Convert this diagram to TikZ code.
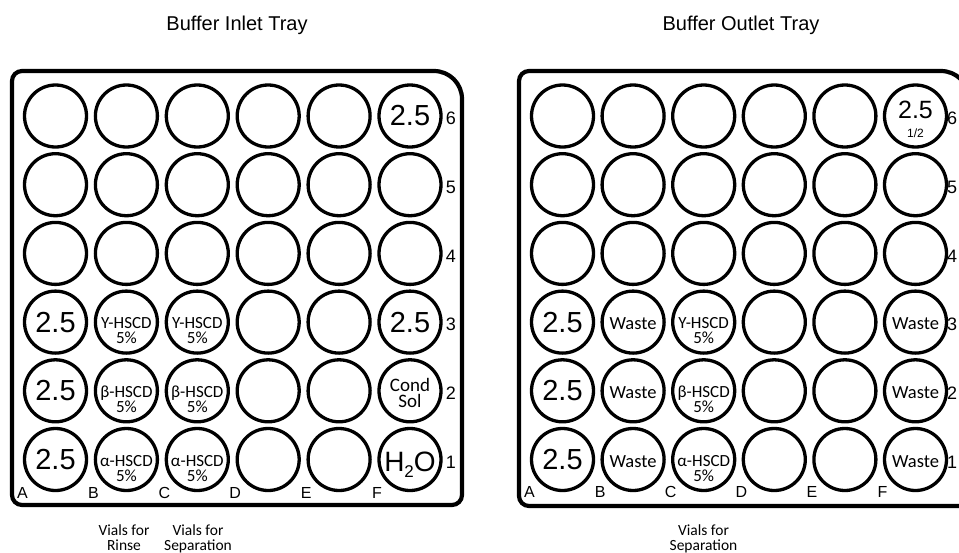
\documentclass[tikz,border=0pt]{standalone}
\usepackage{fontspec}
\setmainfont{Liberation Sans}
\newfontfamily\myr{Carlito}
\usetikzlibrary{calc}
\newcommand\hscdlab[2]{%
  \node[small,anchor=base] (#1-a) at ($(#1)+(0,21.5)$) {#2-HSCD\\5\%};}
\newcommand\wastelab[1]{%
  \node[wastefont,anchor=base] (#1-w) at ($(#1)+(0,7.5)$) {Waste};}
\newcommand\bignum[1]{%
  \node[big] (#1-n) at (#1) {2.5};}
\begin{document}
\begin{tikzpicture}[x=1pt,y=-1pt,
  vial/.style={circle,draw,line width=3.3pt,minimum size=62pt,inner sep=0pt},
  tray/.style={line width=4.2pt,line join=round},
  big/.style={font=\fontsize{29}{29}\selectfont,inner sep=0pt},
  rowlab/.style={font=\fontsize{18}{18}\selectfont,inner sep=0pt},
  collab/.style={font=\fontsize{16}{16}\selectfont,inner sep=0pt,anchor=base},
  small/.style={font=\myr\fontsize{17}{15}\selectfont,inner sep=0pt,align=center},
  wastefont/.style={font=\myr\fontsize{18.5}{15}\selectfont,inner sep=0pt},
  title/.style={font=\fontsize{20}{20}\selectfont,inner sep=0pt,anchor=base},
  note/.style={font=\myr\fontsize{15.5}{15}\selectfont,inner sep=0pt,anchor=base,align=center}]
\useasboundingbox (0,0) rectangle (959,552);
\clip (0,0) rectangle (959,552);
\fill[white] (0,0) rectangle (959,552);

% titles
\node[title] (t1) at (237,30) {Buffer Inlet Tray};
\node[title] (t2) at (741,30) {Buffer Outlet Tray};

% ---------------- left tray
\draw[tray] (12,81) .. controls (12,75.48) and (16.48,71) .. (22,71) -- (434,71)
  .. controls (449.46,71) and (462,83.54) .. (462,99) -- (462,495)
  .. controls (462,500.52) and (457.52,505) .. (452,505) -- (22,505)
  .. controls (16.48,505) and (12,500.52) .. (12,495) -- cycle;
\foreach \c [count=\i from 0] in {A,B,C,D,E,F} {
  \foreach \r in {1,...,6} {
    \node[vial] (L-\c\r) at ({55.5+70.9*\i},{459.5-68.7*(\r-1)}) {};
  }
  \node[collab] (L-lab\c) at ({55.5+70.9*\i-33},498) {\c};
}
\foreach \r in {1,...,6} {
  \node[rowlab] (L-row\r) at (451,{459.5-68.7*(\r-1)+2.5}) {\r};
}
\bignum{L-F6}
\bignum{L-A3}\bignum{L-A2}\bignum{L-A1}\bignum{L-F3}
\hscdlab{L-B3}{Y}\hscdlab{L-C3}{Y}
\hscdlab{L-B2}{β}\hscdlab{L-C2}{β}
\hscdlab{L-B1}{α}\hscdlab{L-C1}{α}
\node[font=\myr\fontsize{19}{16}\selectfont,inner sep=0pt,anchor=base,align=center] (L-F2-a) at ($(L-F2)+(0,16.5)$) {Cond\\Sol};
\node[font=\fontsize{28}{28}\selectfont,inner sep=0pt,anchor=base] (L-F1-n) at ($(L-F1)+(0,11.5)$) {H\raisebox{-0.22em}{\fontsize{17}{17}\selectfont 2}O};
\node[note] (n1) at (124,550) {Vials for\\Rinse};
\node[note] (n2) at (198,550) {Vials for\\Separation};

% ---------------- right tray
\begin{scope}[shift={(507,0)}]
\draw[tray] (12,81) .. controls (12,75.48) and (16.48,71) .. (22,71) -- (434,71)
  .. controls (449.46,71) and (462,83.54) .. (462,99) -- (462,496)
  .. controls (462,501.52) and (457.52,506) .. (452,506) -- (22,506)
  .. controls (16.48,506) and (12,501.52) .. (12,496) -- cycle;
\foreach \c [count=\i from 0] in {A,B,C,D,E,F} {
  \foreach \r in {1,...,6} {
    \node[vial] (R-\c\r) at ({55.5+70.6*\i},{459.5-68.7*(\r-1)}) {};
  }
  \node[collab] (R-lab\c) at ({55.5+70.6*\i-33},497) {\c};
}
\foreach \r in {1,...,6} {
  \node[rowlab] (R-row\r) at (445,{459.5-68.7*(\r-1)+2.5}) {\r};
}
\node[font=\fontsize{25}{25}\selectfont,inner sep=0pt,anchor=base] (R-F6-n) at ($(R-F6)+(0,2)$) {2.5};
\node[font=\fontsize{12}{12}\selectfont,inner sep=0pt,anchor=base] (R-F6-h) at ($(R-F6)+(0,21)$) {1/2};
\bignum{R-A3}\bignum{R-A2}\bignum{R-A1}
\wastelab{R-B3}\wastelab{R-B2}\wastelab{R-B1}
\wastelab{R-F3}\wastelab{R-F2}\wastelab{R-F1}
\hscdlab{R-C3}{Y}\hscdlab{R-C2}{β}\hscdlab{R-C1}{α}
\node[note] (n3) at (196.5,550) {Vials for\\Separation};
\end{scope}
\end{tikzpicture}
\end{document}
